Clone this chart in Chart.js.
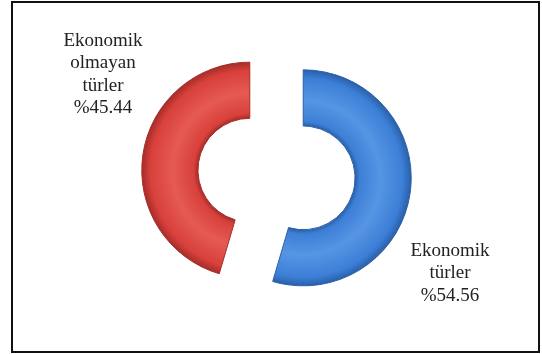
<!DOCTYPE html>
<html>
<head>
<meta charset="utf-8">
<script src="https://cdn.jsdelivr.net/npm/chart.js@4"></script>
<style>
  body { margin: 0; background: #fff; }
  #frame {
    position: absolute; left: 11px; top: 1px;
    width: 525px; height: 348px;
    border: 2px solid #111;
  }
  #myChart { position: absolute; left: 0; top: 0; }
</style>
</head>
<body>
<div id="frame"></div>
<canvas id="myChart" width="542" height="354"></canvas>
<script>
'use strict';

// categories (one entry per slice, split into lines)
const categories = [['Ekonomik', 'türler'], ['Ekonomik', 'olmayan', 'türler']];
const shares = [54.56, 45.44];
const sliceColors = ['#3c7fd6', '#d8403b'];
const sliceLight = ['#5795e4', '#e65a54'];
const sliceDark = ['#2a5fa8', '#a52d29'];

const EXPLODE = 27;
const OUTER = 108;
const CUT = 0.48;

function midAngle(i) {
  const total = shares.reduce((a, b) => a + b, 0);
  let before = 0;
  for (let k = 0; k < i; k++) before += shares[k];
  return -Math.PI / 2 + ((before + shares[i] / 2) / total) * Math.PI * 2;
}

// bevelled look: dark rims, lighter middle of the ring
function ringFill(c) {
  const area = c.chart.chartArea;
  const i = c.dataIndex;
  if (!area) return sliceColors[i];
  const mid = midAngle(i);
  const x = (area.left + area.right) / 2 + Math.cos(mid) * EXPLODE;
  const y = (area.top + area.bottom) / 2 + Math.sin(mid) * EXPLODE;
  const g = c.chart.ctx.createRadialGradient(x, y, OUTER * CUT, x, y, OUTER);
  g.addColorStop(0, sliceDark[i]);
  g.addColorStop(0.08, sliceColors[i]);
  g.addColorStop(0.45, sliceLight[i]);
  g.addColorStop(0.85, sliceColors[i]);
  g.addColorStop(1, sliceDark[i]);
  return g;
}

// pushes each slice away from the centre along its middle angle
const explodePlugin = {
  id: 'explode',
  afterDatasetUpdate(chart, args) {
    args.meta.data.forEach((arc) => {
      const mid = (arc.startAngle + arc.endAngle) / 2;
      arc.x += Math.cos(mid) * EXPLODE;
      arc.y += Math.sin(mid) * EXPLODE;
    });
  },
};

// writes the label and percent next to each slice
const sliceLabels = {
  id: 'sliceLabels',
  afterDatasetsDraw(chart) {
    const { ctx, chartArea } = chart;
    const cx = (chartArea.left + chartArea.right) / 2;
    const cy = (chartArea.top + chartArea.bottom) / 2;
    const meta = chart.getDatasetMeta(0);
    ctx.save();
    ctx.font = '19px "Liberation Serif", "Times New Roman", serif';
    ctx.fillStyle = '#222';
    ctx.textAlign = 'center';
    ctx.textBaseline = 'middle';
    meta.data.forEach((arc, i) => {
      const ang = (arc.startAngle + arc.endAngle) / 2 + (21.6 * Math.PI) / 180;
      const r = arc.outerRadius + 92;
      const x = cx + Math.cos(ang) * r;
      const y = cy + Math.sin(ang) * r;
      const lines = categories[i].concat(['%' + shares[i].toFixed(2)]);
      const lh = 22.5;
      lines.forEach((line, k) => {
        ctx.fillText(line, x, y + (k - (lines.length - 1) / 2) * lh);
      });
    });
    ctx.restore();
  },
};

const ctx = document.getElementById('myChart');

new Chart(ctx, {
  type: 'doughnut',
  data: {
    labels: categories,
    datasets: [
      {
        data: shares,
        backgroundColor: ringFill,
        borderColor: sliceDark,
        borderWidth: 1,
      },
    ],
  },
  options: {
    responsive: false,
    animation: false,
    radius: OUTER,
    cutout: CUT * 100 + '%',
    layout: { padding: { left: 11, right: 0, top: 0, bottom: 6 } },
    plugins: {
      legend: { display: false },
      tooltip: { enabled: false },
    },
  },
  plugins: [explodePlugin, sliceLabels],
});
</script>
</body>
</html>
